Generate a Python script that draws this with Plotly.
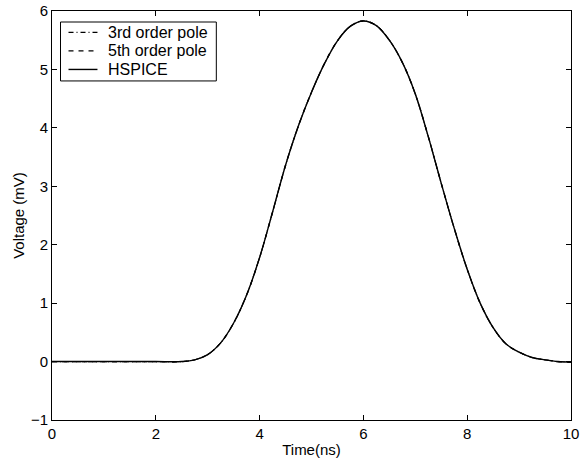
import plotly.graph_objects as go

time_ns = [0.0, 0.5, 1.0, 1.5, 2.0, 2.5, 2.75, 3.0, 3.25, 3.5, 3.75, 4.0, 4.25, 4.5,
           4.75, 5.0, 5.25, 5.5, 5.75, 6.0, 6.25, 6.5, 6.75, 7.0, 7.25, 7.5, 7.75,
           8.0, 8.25, 8.5, 8.75, 9.0, 9.25, 9.5, 9.75, 10.0]

hspice_mv = [0.0, 0.0, 0.0, 0.0, 0.0, 0.0, 0.03, 0.12, 0.32, 0.66, 1.14, 1.78, 2.56, 3.36,
             4.04, 4.61, 5.10, 5.49, 5.74, 5.83, 5.75, 5.50, 5.12, 4.58, 3.85, 3.05, 2.28,
             1.58, 1.00, 0.58, 0.30, 0.16, 0.07, 0.03, 0.0, -0.01]
pole3_mv = [0.0, 0.0, 0.0, 0.0, 0.0, 0.0, 0.03, 0.12, 0.32, 0.66, 1.14, 1.78, 2.56, 3.36,
            4.04, 4.61, 5.10, 5.49, 5.74, 5.83, 5.75, 5.50, 5.12, 4.58, 3.85, 3.05, 2.28,
            1.58, 1.00, 0.58, 0.30, 0.16, 0.07, 0.03, 0.0, -0.01]
pole5_mv = [0.0, 0.0, 0.0, 0.0, 0.0, 0.0, 0.03, 0.12, 0.32, 0.66, 1.14, 1.78, 2.56, 3.36,
            4.04, 4.61, 5.10, 5.49, 5.74, 5.83, 5.75, 5.50, 5.12, 4.58, 3.85, 3.05, 2.28,
            1.58, 1.00, 0.58, 0.30, 0.16, 0.07, 0.03, 0.0, -0.01]

series_names = ["3rd order pole", "5th order pole", "HSPICE"]
x_ticks = [0, 2, 4, 6, 8, 10]
y_ticks = [-1, 0, 1, 2, 3, 4, 5, 6]

FONT = "Liberation Sans, Arial, sans-serif"
DASH_DOT = "5px,3px,1px,3px"
DASHED = "5px,5px"
styles = [dict(dash=DASH_DOT, width=1.2), dict(dash=DASHED, width=1.2),
          dict(dash="solid", width=1.4)]

fig = go.Figure()
for name, ys, st in zip(series_names, [pole3_mv, pole5_mv, hspice_mv], styles):
    fig.add_trace(go.Scatter(x=time_ns, y=ys, mode="lines", name=name, showlegend=False,
                             line=dict(color="black", width=st["width"], dash=st["dash"],
                                       shape="spline")))

axis_common = dict(showline=True, linecolor="black", linewidth=1, mirror="ticks",
                   ticks="inside", ticklen=5, tickcolor="black", showgrid=False,
                   zeroline=False, automargin=False,
                   tickfont=dict(family=FONT, size=15, color="black"))

fig.update_xaxes(range=[0, 10], tickvals=x_ticks,
                 title=dict(text="Time(ns)", standoff=3,
                            font=dict(family=FONT, size=15, color="black")),
                 **axis_common)
fig.update_yaxes(range=[-1, 6], tickvals=y_ticks,
                 title=dict(text="Voltage (mV)", standoff=2,
                            font=dict(family=FONT, size=15, color="black")),
                 **axis_common)

# legend box drawn in plot-area (domain) coordinates
box_x0, box_x1, box_y0, box_y1 = 0.0164, 0.3166, 0.8290, 0.9731
row_y = [0.9475, 0.9023, 0.8571]
sample_x0, sample_x1, text_x = 0.0318, 0.0876, 0.1049

shapes = [dict(type="rect", xref="x domain", yref="y domain",
               x0=box_x0, x1=box_x1, y0=box_y0, y1=box_y1,
               line=dict(color="black", width=1), fillcolor="white", layer="above")]
annotations = []
for name, yy, st in zip(series_names, row_y, styles):
    shapes.append(dict(type="line", xref="x domain", yref="y domain",
                       x0=sample_x0, x1=sample_x1, y0=yy, y1=yy, layer="above",
                       line=dict(color="black", width=st["width"], dash=st["dash"])))
    annotations.append(dict(xref="x domain", yref="y domain", x=text_x, y=yy,
                            text=name, showarrow=False, xanchor="left", yanchor="middle",
                            font=dict(family=FONT, size=16, color="black")))

fig.update_layout(
    width=581, height=459,
    margin=dict(l=51.5, r=10, t=11, b=38.5),
    paper_bgcolor="white", plot_bgcolor="white",
    font=dict(family=FONT, size=15, color="black"),
    showlegend=False,
    shapes=shapes,
    annotations=annotations,
)

fig.write_html("out.html", config={"displayModeBar": False},
               post_script="document.body.style.margin='0';")
